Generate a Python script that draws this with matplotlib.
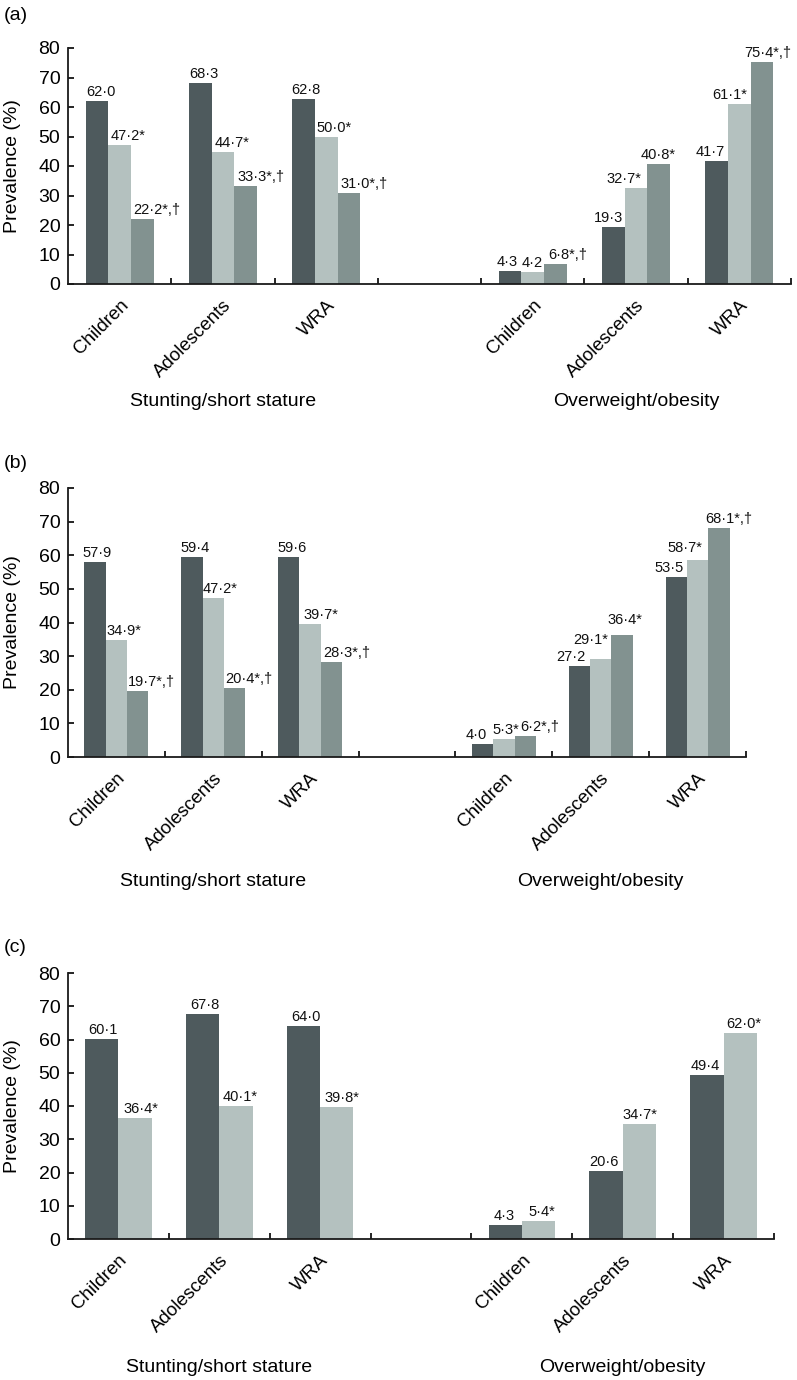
import matplotlib
matplotlib.use('Agg')
import matplotlib.pyplot as plt
from matplotlib import transforms

plt.rcParams['font.family'] = ['Liberation Sans', 'DejaVu Sans']

# --- data ---
groups = ['Children', 'Adolescents', 'WRA', 'Children', 'Adolescents', 'WRA']
outcomes = ['Stunting/short stature', 'Overweight/obesity']

# panel (a): three series per group
a_values = [
    [62.0, 68.3, 62.8, 4.3, 19.3, 41.7],
    [47.2, 44.7, 50.0, 4.2, 32.7, 61.1],
    [22.2, 33.3, 31.0, 6.8, 40.8, 75.4],
]
a_marks = [
    ['', '', '', '', '', ''],
    ['*', '*', '*', '', '*', '*'],
    ['*,†', '*,†', '*,†', '*,†', '*', '*,†'],
]

# panel (b)
b_values = [
    [57.9, 59.4, 59.6, 4.0, 27.2, 53.5],
    [34.9, 47.2, 39.7, 5.3, 29.1, 58.7],
    [19.7, 20.4, 28.3, 6.2, 36.4, 68.1],
]
b_marks = [
    ['', '', '', '', '', ''],
    ['*', '*', '*', '*', '*', '*'],
    ['*,†', '*,†', '*,†', '*,†', '*', '*,†'],
]

# panel (c): two series per group
c_values = [
    [60.1, 67.8, 64.0, 4.3, 20.6, 49.4],
    [36.4, 40.1, 39.8, 5.4, 34.7, 62.0],
]
c_marks = [
    ['', '', '', '', '', ''],
    ['*', '*', '*', '*', '*', '*'],
]

# label nudges in pixels (x from bar left edge, extra y)
a_dx = [[1, 0, -1, -2, -8, -10], [2, 3, 2, 0, -18, -16], [2, 3, 3, 4, -7, -6]]
a_dy = [[0] * 6, [0] * 6, [0] * 6]
b_dx = [[-2, -1, -1, -6, -13, -11], [1, 0, 4, -1, -17, -19], [1, 1, 2, 6, -4, -3]]
b_dy = [[0] * 6, [0, 0, 0, 0, 10, 3], [0, 0, 0, 0, 6, 0]]
c_dx = [[3, 4, 4, 5, 0, 0], [5, 3, 4, 7, 0, 3]]
c_dy = [[0] * 6, [0] * 6]

colors3 = ['#4e5a5d', '#b4c1bf', '#829290']
colors2 = ['#4e5a5d', '#b4c1bf']

W, H = 797, 1380
fig = plt.figure(figsize=(W / 100, H / 100), dpi=100)

positions = [0, 1, 2, 4, 5, 6]


def fmt(v, m):
    return ('%.1f' % v).replace('.', '·') + m


def panel(box, tag, tag_y, grp_y, values, marks, dx, dy, colors, width, lab_shift=0):
    x0, x1, yt, yb = box
    ax = fig.add_axes([x0 / W, 1 - yb / H, (x1 - x0) / W, (yb - yt) / H])
    n = len(values)
    for k in range(n):
        xs = [p + (k - (n - 1) / 2) * width for p in positions]
        ax.bar(xs, values[k], width=width, color=colors[k], linewidth=0, zorder=2)
        for i, (xv, v) in enumerate(zip(xs, values[k])):
            ax.annotate(fmt(v, marks[k][i]), (xv - width / 2, v),
                        xytext=(dx[k][i], 5 + dy[k][i]), textcoords='offset pixels',
                        ha='left', va='baseline', fontsize=10.5, color='#111111')
    ax.set_xlim(-0.5, 6.5)
    ax.set_ylim(0, 80)
    ax.set_yticks(range(0, 81, 10))
    ax.set_xticks(positions)
    ax.set_xticklabels(groups, rotation=45, ha='right', va='top',
                       rotation_mode='anchor', fontsize=13.5)
    if lab_shift:
        off = transforms.ScaledTranslation(lab_shift / 100, 0, fig.dpi_scale_trans)
        for lab in ax.get_xticklabels():
            lab.set_transform(lab.get_transform() + off)
    ax.set_xticks([0.5, 1.5, 2.5, 3.5, 4.5, 5.5, 6.5], minor=True)
    ax.tick_params(axis='x', which='major', length=0, pad=9)
    ax.tick_params(axis='x', which='minor', direction='in', length=4.5, width=1.2)
    ax.tick_params(axis='y', direction='in', length=4.5, width=1.2, labelsize=14, pad=5.5)
    for s in ['top', 'right']:
        ax.spines[s].set_visible(False)
    for s in ['left', 'bottom']:
        ax.spines[s].set_linewidth(1.3)
        ax.spines[s].set_color('#1a1a1a')

    fig.text(13 / W, 1 - (yt + yb) / 2 / H, 'Prevalence (%)', rotation=90,
             ha='center', va='center', fontsize=14)
    fig.text(4 / W, 1 - tag_y / H, tag, ha='left', va='center', fontsize=14)
    tr = transforms.blended_transform_factory(ax.transData, fig.transFigure)
    ax.text(1, 1 - grp_y / H, outcomes[0], transform=tr, ha='center', va='center', fontsize=14)
    ax.text(5, 1 - grp_y / H, outcomes[1], transform=tr, ha='center', va='center', fontsize=14)
    return ax


panel((68, 791, 48, 284), '(a)', 15, 401, a_values, a_marks, a_dx, a_dy, colors3, 0.22, lab_shift=-9)
panel((68, 746, 488, 757), '(b)', 463, 881, b_values, b_marks, b_dx, b_dy, colors3, 0.22)
panel((68, 774, 973, 1239), '(c)', 948, 1367, c_values, c_marks, c_dx, c_dy, colors2, 0.33)

fig.savefig('out.png', dpi=100)
